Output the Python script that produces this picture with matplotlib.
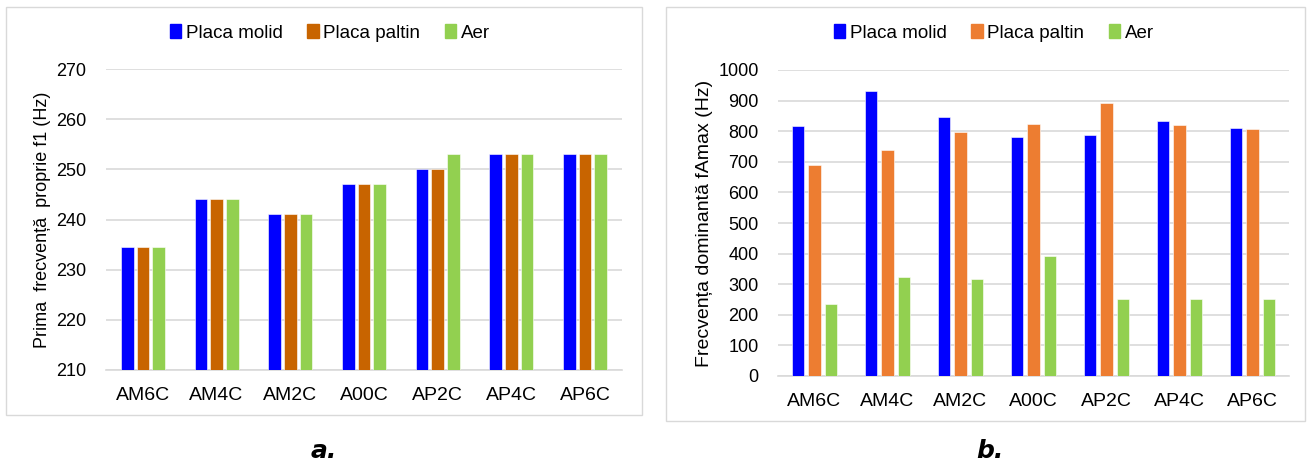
import matplotlib.pyplot as plt
from matplotlib.patches import Rectangle, Patch
import numpy as np

plt.rcParams['font.family'] = ['Liberation Sans', 'DejaVu Sans']

# DATA ---------------------------------------------------------------------------
categories = ['AM6C', 'AM4C', 'AM2C', 'A00C', 'AP2C', 'AP4C', 'AP6C']
series_names = ['Placa molid', 'Placa paltin', 'Aer']

# a. first natural frequency f1 (Hz)
f1_molid = [234.5, 244, 241, 247, 250, 253, 253]
f1_paltin = [234.5, 244, 241, 247, 250, 253, 253]
f1_aer = [234.5, 244, 241, 247, 253, 253, 253]

# b. dominant frequency fAmax (Hz)
fa_molid = [818, 932, 845, 780, 786, 832, 810]
fa_paltin = [689, 737, 797, 824, 891, 821, 807]
fa_aer = [235, 323, 316, 392, 253, 253, 253]

# STYLE --------------------------------------------------------------------------
W, H = 1309, 462
BLUE = '#0000FF'
GREEN = '#92D050'
GRID = '#D9D9D9'

fig = plt.figure(figsize=(W / 100, H / 100), dpi=100)


def px_axes(x0, y0, x1, y1):
    # axes from pixel box (top-left origin)
    return fig.add_axes([x0 / W, 1 - y1 / H, (x1 - x0) / W, (y1 - y0) / H])


def frame(x0, y0, x1, y1):
    fig.patches.append(Rectangle((x0 / W, 1 - y1 / H), (x1 - x0) / W, (y1 - y0) / H,
                                 transform=fig.transFigure, fill=False,
                                 edgecolor=GRID, lw=1.0))


def bar_chart(ax, data, colors, width, step, ylim, yticks, ylabel, label_size):
    x = np.arange(len(categories))
    for i, (vals, col) in enumerate(zip(data, colors)):
        ax.bar(x + (i - 1) * step, np.array(vals) - ylim[0], width,
               bottom=ylim[0], color=col, edgecolor='white', linewidth=0.4,
               zorder=3)
    ax.set_xlim(-0.5, len(categories) - 0.5)
    ax.set_ylim(*ylim)
    ax.set_yticks(yticks)
    ax.set_xticks(x)
    ax.set_xticklabels(categories, fontsize=14)
    ax.tick_params(axis='y', labelsize=13, length=0, pad=14)
    ax.tick_params(axis='x', length=0, pad=12)
    ax.grid(axis='y', color=GRID, lw=1.2, zorder=0)
    for s in ['top', 'right', 'left']:
        ax.spines[s].set_visible(False)
    ax.spines['bottom'].set_color(GRID)
    ax.spines['bottom'].set_linewidth(1.2)
    ax.set_ylabel(ylabel, fontsize=label_size, labelpad=4)


def legend(colors, cx):
    handles = [Patch(color=c) for c in colors]
    fig.legend(handles, series_names, loc='center', bbox_to_anchor=(cx / W, 1 - 33 / H),
               ncol=3, frameon=False, fontsize=13.5, handlelength=0.6, handleheight=0.7,
               handletextpad=0.25, columnspacing=1.3)


# PANEL a ------------------------------------------------------------------------
frame(6, 7, 642, 415)
ax1 = px_axes(106, 69, 622, 370)
bar_chart(ax1, [f1_molid, f1_paltin, f1_aer], [BLUE, '#C86400', GREEN],
          0.172, 0.212, (210, 270), np.arange(210, 271, 10),
          'Prima  frecvență  proprie f1 (Hz)', 13)
legend([BLUE, '#C86400', GREEN], 330)
fig.text(324 / W, 1 - 451 / H, 'a.', ha='center', va='center', fontsize=18,
         fontweight='bold', fontstyle='italic', family='DejaVu Sans')

# PANEL b ------------------------------------------------------------------------
frame(666, 7, 1305, 421)
ax2 = px_axes(778, 70, 1289, 376)
bar_chart(ax2, [fa_molid, fa_paltin, fa_aer], [BLUE, '#ED7D31', GREEN],
          0.17, 0.225, (0, 1000), np.arange(0, 1001, 100),
          'Frecvența dominantă fAmax (Hz)', 14)
legend([BLUE, '#ED7D31', GREEN], 994)
fig.text(990 / W, 1 - 451 / H, 'b.', ha='center', va='center', fontsize=18,
         fontweight='bold', fontstyle='italic', family='DejaVu Sans')

fig.savefig('out.png', dpi=100)
